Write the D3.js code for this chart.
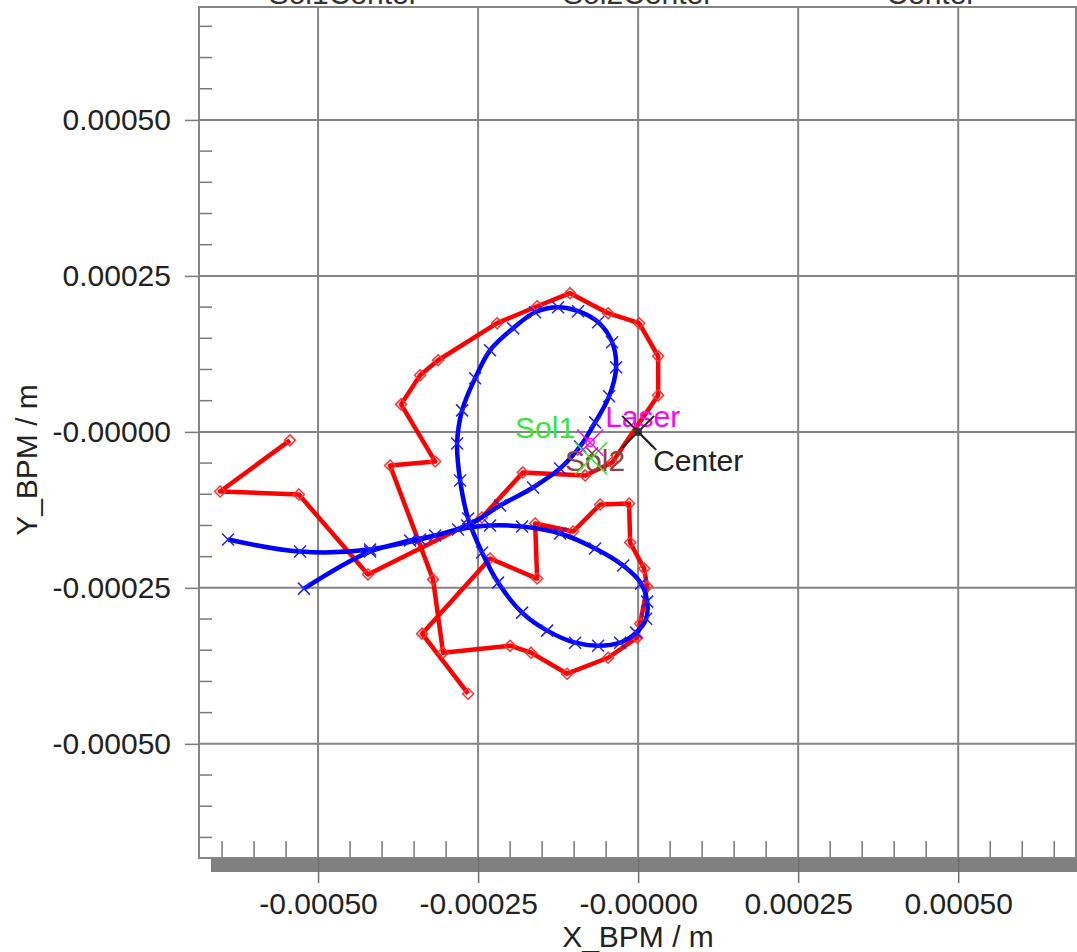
<!DOCTYPE html>
<html>
<head>
<meta charset="utf-8">
<script src="https://cdn.jsdelivr.net/npm/d3@7"></script>
<style>
  body { margin: 0; background: #fff; }
  svg text { font-family: "Liberation Sans", Arial, sans-serif; }
</style>
</head>
<body>
<svg id="chart" width="1077" height="952"></svg>
<script>
// measured beam positions (red, diamonds)
const measX = [-0.000544, -0.000653, -0.000530, -0.000422, -0.000244, -0.000180, -0.0000828, -0.0000406,
  0.0000313, 0.0000313, 0.0000016, -0.0000469, -0.0001063, -0.0001578, -0.0002203, -0.0003125,
  -0.0003406, -0.0003703, -0.0003172, -0.0003875, -0.0003203, -0.0003047, -0.0002000, -0.0001672,
  -0.0001109, -0.0000469, -0.0000016, 0.0000031, 0.0000141, 0.0000094, -0.0000125, -0.0000141,
  -0.0000594, -0.0001016, -0.0001609, -0.0001578, -0.0002313, -0.0003375, -0.0002656];
const measY = [-0.0000136, -0.0000955, -0.0001003, -0.0002287, -0.0001372, -0.0000650, -0.0000698, -0.0000490,
  0.0000586, 0.0001212, 0.0001742, 0.0001902, 0.0002223, 0.0002014, 0.0001742, 0.0001148,
  0.0000907, 0.0000441, -0.0000474, -0.0000538, -0.0002368, -0.0003539, -0.0003427, -0.0003539,
  -0.0003876, -0.0003620, -0.0003298, -0.0003074, -0.0002480, -0.0002191, -0.0001774, -0.0001148,
  -0.0001164, -0.0001597, -0.0001469, -0.0002351, -0.0002030, -0.0003234, -0.0004197];

// fitted orbit (blue, crosses)
const fitX = [-0.000522, -0.0004188, -0.0003406, -0.0002672, -0.0002156, -0.0001641, -0.0001219, -0.0000906,
  -0.0000672, -0.0000453, -0.0000344, -0.0000406, -0.0000625, -0.0000938, -0.0001250, -0.0001609,
  -0.0001953, -0.0002313, -0.0002547, -0.0002750, -0.0002828, -0.0002781, -0.0002656, -0.0002438,
  -0.0002188, -0.0001813, -0.0001422, -0.0000984, -0.0000625, -0.0000281, -0.0000031, 0.0000125,
  0.0000141, 0.0000047, -0.0000234, -0.0000672, -0.0001219, -0.0001813, -0.0002313, -0.0002813,
  -0.0003172, -0.0003563, -0.0004188, -0.0005281, -0.0006406];
const fitY = [-0.0002512, -0.0001918, -0.0001726, -0.0001501, -0.0001180, -0.0000891, -0.0000586, -0.0000233,
  0.0000152, 0.0000570, 0.0001035, 0.0001437, 0.0001758, 0.0001934, 0.0001998, 0.0001918,
  0.0001661, 0.0001308, 0.0000859, 0.0000345, -0.0000185, -0.0000778, -0.0001388, -0.0001934,
  -0.0002416, -0.0002897, -0.0003186, -0.0003379, -0.0003427, -0.0003379, -0.0003218, -0.0002994,
  -0.0002721, -0.0002432, -0.0002143, -0.0001870, -0.0001629, -0.0001517, -0.0001501, -0.0001565,
  -0.0001661, -0.0001742, -0.0001886, -0.0001918, -0.0001726];

// labelled reference points
const refNames = ["Sol2", "Sol1", "Laser", "Center"];
const refX = [-0.0000719, -0.0000734, -0.0000750, 0];
const refY = [-0.0000345, -0.0000425, -0.0000169, 0];

// header labels (cut off at top)
const headNames = ["Sol1Center", "Sol2Center", "Center"];
const headX = [-0.00046, 0, 0.000458];

const tickVals = [-0.0005, -0.00025, 0, 0.00025, 0.0005];
const xTickLabels = ["-0.00050", "-0.00025", "-0.00000", "0.00025", "0.00050"];
const yTickLabels = ["-0.00050", "-0.00025", "-0.00000", "0.00025", "0.00050"];

const L = 199, R = 1076, T = 7, B = 858;
const x = d3.scaleLinear().domain([-0.000686, 0.000684]).range([L, R]);
const y = d3.scaleLinear().domain([-0.000683, 0.000681]).range([B, T]);

const svg = d3.select("#chart");
const gridCol = "#858585";

// shadow bar under the frame
svg.append("rect").attr("x", L + 12).attr("y", B + 1).attr("width", 1077 - L - 12).attr("height", 13)
  .attr("fill", "#808080");

// grid
svg.append("g").selectAll("line.gx").data(tickVals).enter().append("line")
  .attr("x1", d => x(d)).attr("x2", d => x(d)).attr("y1", T).attr("y2", B)
  .attr("stroke", gridCol).attr("stroke-width", 2);
svg.append("g").selectAll("line.gy").data(tickVals).enter().append("line")
  .attr("x1", L).attr("x2", R).attr("y1", d => y(d)).attr("y2", d => y(d))
  .attr("stroke", gridCol).attr("stroke-width", 2);

// minor ticks
const minor = d3.range(-13, 14).map(i => i * 0.00005).filter(v => Math.abs(v / 0.00025 - Math.round(v / 0.00025)) > 1e-6);
svg.append("g").selectAll("line").data(minor).enter().append("line")
  .attr("x1", L).attr("x2", L + 13).attr("y1", d => y(d)).attr("y2", d => y(d))
  .attr("stroke", "#7a7a7a").attr("stroke-width", 1.5);
svg.append("g").selectAll("line").data(minor).enter().append("line")
  .attr("x1", d => x(d)).attr("x2", d => x(d)).attr("y1", B - 17).attr("y2", B)
  .attr("stroke", "#7a7a7a").attr("stroke-width", 1.5);

// frame
svg.append("rect").attr("x", L).attr("y", T).attr("width", R - L).attr("height", B - T)
  .attr("fill", "none").attr("stroke", gridCol).attr("stroke-width", 2);

// axes (major ticks + labels)
const yAxis = d3.axisLeft(y).tickValues(tickVals).tickSize(14).tickPadding(14)
  .tickFormat((d, i) => yTickLabels[i]);
const gy = svg.append("g").attr("transform", `translate(${L},0)`).call(yAxis);
gy.select(".domain").remove();
gy.selectAll(".tick line").attr("stroke", "#7a7a7a").attr("stroke-width", 1.5);
gy.selectAll(".tick text").attr("font-size", 30).attr("fill", "#222")
  .attr("font-family", "Liberation Sans, Arial, sans-serif");

const xAxis = d3.axisBottom(x).tickValues(tickVals).tickSize(25).tickPadding(10)
  .tickFormat((d, i) => xTickLabels[i]);
const gx = svg.append("g").attr("transform", `translate(0,${B})`).call(xAxis);
gx.select(".domain").remove();
gx.selectAll(".tick line").attr("stroke", "#6f6f6f").attr("stroke-width", 1.5);
gx.selectAll(".tick text").attr("font-size", 30).attr("fill", "#222")
  .attr("font-family", "Liberation Sans, Arial, sans-serif");

// axis titles
svg.append("text").attr("x", 638).attr("y", 947).attr("text-anchor", "middle")
  .attr("font-size", 30).attr("fill", "#222").text("X_BPM / m");
svg.append("text").attr("transform", "translate(37,460) rotate(-90)").attr("text-anchor", "middle")
  .attr("font-size", 30).attr("fill", "#222").text("Y_BPM / m");

// header labels, mostly above the window
svg.append("g").selectAll("text").data(headNames).enter().append("text")
  .attr("x", (d, i) => x(headX[i])).attr("y", 4).attr("text-anchor", "middle")
  .attr("font-size", 30).attr("fill", "#333").text(d => d);

// plot area
svg.append("clipPath").attr("id", "clip").append("rect")
  .attr("x", L).attr("y", T).attr("width", R - L).attr("height", B - T);
const plot = svg.append("g").attr("clip-path", "url(#clip)");

const meas = measX.map((v, i) => [v, measY[i]]);
const fit = fitX.map((v, i) => [v, fitY[i]]);

const line = d3.line().x(d => x(d[0])).y(d => y(d[1]));
const smooth = d3.line().x(d => x(d[0])).y(d => y(d[1])).curve(d3.curveCatmullRom.alpha(0.5));

plot.append("path").attr("d", line(meas)).attr("fill", "none")
  .attr("stroke", "#ff0000").attr("stroke-width", 4.5).attr("stroke-linejoin", "round");
plot.append("g").selectAll("path").data(meas).enter().append("path")
  .attr("d", "M0,-5.5L5.5,0L0,5.5L-5.5,0Z")
  .attr("transform", d => `translate(${x(d[0])},${y(d[1])})`)
  .attr("fill", "none").attr("stroke", "#ff3030").attr("stroke-width", 1.5);

plot.append("path").attr("d", smooth(fit)).attr("fill", "none")
  .attr("stroke", "#0000ff").attr("stroke-width", 4.5).attr("stroke-linejoin", "round");
plot.append("g").selectAll("path").data(fit).enter().append("path")
  .attr("d", "M-6,-6L6,6M6,-6L-6,6")
  .attr("transform", d => `translate(${x(d[0])},${y(d[1])})`)
  .attr("stroke", "#2020ff").attr("stroke-width", 1.5);

// reference markers and labels
const refStyle = {
  Sol2:   { color: "#8b4545", size: 6,  dx: -27, dy: 18, anchor: "start" },
  Sol1:   { color: "#33e833", size: 16, dx: -16, dy: -20, anchor: "end" },
  Laser:  { color: "#ff00ff", size: 13, dx: 15, dy: -15, anchor: "start" },
  Center: { color: "#222222", size: 16, dx: 15, dy: 39, anchor: "start" }
};
refNames.forEach((n, i) => {
  const s = refStyle[n];
  const cx = x(refX[i]), cy = y(refY[i]);
  const g = plot.append("g").attr("transform", `translate(${cx},${cy})`);
  g.append("path").attr("d", `M${-s.size},${-s.size}L${s.size},${s.size}M${s.size},${-s.size}L${-s.size},${s.size}`)
    .attr("stroke", s.color).attr("stroke-width", n === "Center" ? 2 : 1.5);
  if (n === "Laser") g.append("circle").attr("r", 4).attr("fill", "none").attr("stroke", s.color).attr("stroke-width", 1.5);
  if (n === "Center") {
    g.append("circle").attr("r", 4).attr("fill", "#333");
    g.append("line").attr("x1", 0).attr("y1", 0).attr("x2", 18).attr("y2", 18)
      .attr("stroke", s.color).attr("stroke-width", 2);
  }
  g.append("text").attr("x", s.dx).attr("y", s.dy).attr("text-anchor", s.anchor)
    .attr("font-size", 30).attr("fill", s.color).text(n);
});
</script>
</body>
</html>
